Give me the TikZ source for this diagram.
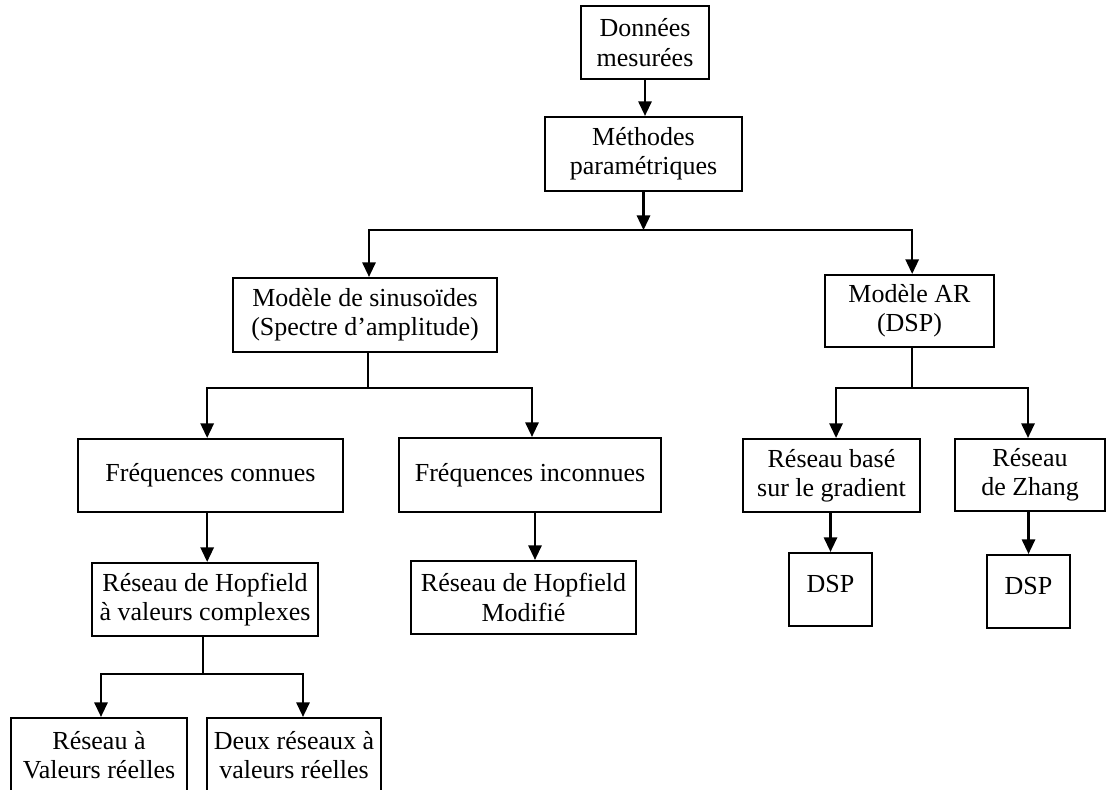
\documentclass[tikz,border=0pt]{standalone}
\usepackage{fontspec}
\setmainfont{Liberation Serif}
\usetikzlibrary{arrows.meta}

\tikzset{
  box/.style={draw, line width=1.6pt, align=center, inner sep=0pt,
    font=\fontsize{19.5pt}{22pt}\selectfont},
  ln/.style={line width=1.6pt},
  arr/.style={ln, -{Triangle[width=10pt,length=11pt]}},
}

\begin{document}
\begin{tikzpicture}[x=0.75pt, y=-0.75pt]
  \clip (0,0) rectangle (1106,789);

  % --- boxes ---
  \node[box, minimum width=96pt,    minimum height=54.75pt] (don)  at (645,42.5)    {Données\\mesurées};
  \node[box, minimum width=147.75pt, minimum height=55.5pt] (meth) at (643.5,154)   {Méthodes\\paramétriques};
  \node[box, minimum width=198pt,   minimum height=55.5pt]  (sin)  at (365,315)     {Modèle de sinusoïdes\\(Spectre d’amplitude)};
  \node[box, minimum width=126.75pt, minimum height=54pt]   (ar)   at (909.5,311)   {Modèle AR\\(DSP)};
  \node[box, minimum width=198.75pt, minimum height=54.75pt] (fc)  at (210.5,475.5) {Fréquences connues};
  \node[box, minimum width=196.5pt, minimum height=55.5pt]  (fi)   at (530,475)     {Fréquences inconnues};
  \node[box, minimum width=169.5pt, minimum height=54.75pt] (hop)  at (205,599.5)   {Réseau de Hopfield\\à valeurs complexes};
  \node[box, minimum width=168.75pt, minimum height=54.75pt] (hopm) at (523.5,597.5) {Réseau de Hopfield\\Modifié};
  \node[box, minimum width=132.75pt, minimum height=54.75pt] (grad) at (831.5,475.5) {Réseau basé\\sur le gradient};
  \node[box, minimum width=112.5pt, minimum height=54pt]    (zh)   at (1030,475)    {Réseau\\de Zhang};
  \node[box, minimum width=62.25pt, minimum height=54.75pt, text depth=9pt] (dsp1) at (830.5,589.5) {DSP};
  \node[box, minimum width=62.25pt, minimum height=54.75pt, text depth=9pt] (dsp2) at (1028.5,591.5) {DSP};
  \node[box, minimum width=132pt,   minimum height=55.5pt]  (rv)   at (99,755)      {Réseau à\\Valeurs réelles};
  \node[box, minimum width=130.5pt, minimum height=55.5pt]  (deux) at (294,755)     {Deux réseaux à\\valeurs réelles};

  % --- connectors ---
  \draw[arr] (don.south) -- (don.south |- meth.north);

  \path (meth.south) ++(0,38) coordinate (j1);
  \draw[arr] (meth.south) -- (j1);
  \draw[arr] (j1) -| ([xshift=3pt]sin.north);
  \draw[arr] (j1) -| ([xshift=2pt]ar.north);

  \draw[ln] ([xshift=2.25pt]sin.south) -- ++(0,35) coordinate (j2);
  \draw[arr] (j2) -| ([xshift=-2.5pt]fc.north);
  \draw[arr] (j2) -| ([xshift=1.5pt]fi.north);

  \draw[ln] ([xshift=1.9pt]ar.south) -- ++(0,40) coordinate (j3);
  \draw[arr] (j3) -| ([xshift=3.4pt]grad.north);
  \draw[arr] (j3) -| ([xshift=-1.5pt]zh.north);

  \draw[arr] ([xshift=-2.5pt]fc.south) -- ([xshift=-2.5pt]fc.south |- hop.north);
  \draw[arr] ([xshift=3.75pt]fi.south) -- ([xshift=3.75pt]fi.south |- hopm.north);
  \draw[arr] (grad.south -| dsp1.north) -- (dsp1.north);
  \draw[arr] (zh.south -| dsp2.north) -- (dsp2.north);

  \draw[ln] ([xshift=-1.5pt]hop.south) -- ++(0,37) coordinate (j4);
  \draw[arr] (j4) -| ([xshift=1.5pt]rv.north);
  \draw[arr] (j4) -| ([xshift=6.75pt]deux.north);
\end{tikzpicture}
\end{document}
